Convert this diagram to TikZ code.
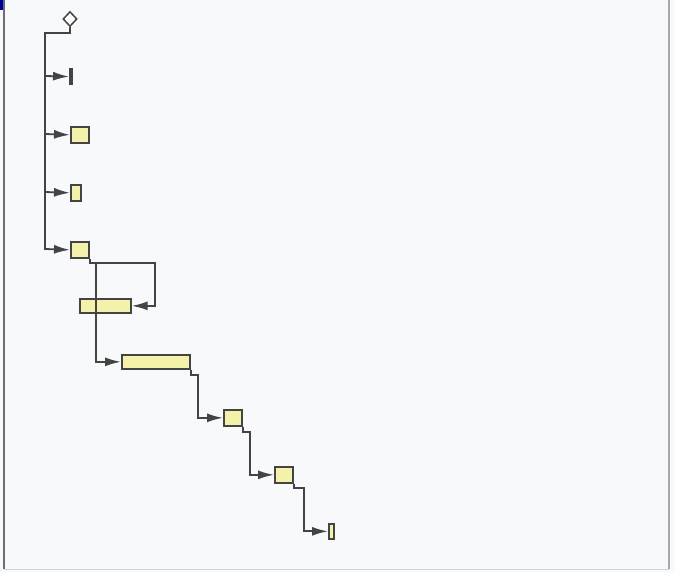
\documentclass[tikz,border=0pt]{standalone}
\usetikzlibrary{arrows.meta,shapes.geometric}
\definecolor{bg}{HTML}{F7F9FB}
\definecolor{ln}{HTML}{444444}
\definecolor{boxfill}{HTML}{F4F2AA}
\definecolor{frm}{HTML}{6A6E78}
\tikzset{
  task/.style={draw=ln, line width=1.7pt, fill=boxfill, inner sep=0pt, anchor=north west},
  msbar/.style={draw=ln, fill=ln, line width=1.2pt, inner sep=0pt, anchor=north west, minimum width=2.5pt, minimum height=16pt},
  conn/.style={draw=ln, line width=1.8pt},
  arr/.style={conn, -{Latex[length=16pt,width=9pt]}},
  start/.style={diamond, draw=ln, line width=1.5pt, fill=white, inner sep=0pt, minimum width=14pt, minimum height=15pt}
}
\begin{document}
\begin{tikzpicture}[x=1pt,y=-1pt]
\useasboundingbox (0,0) rectangle (675,572);
\fill[bg] (0,0) rectangle (675,572);
% frame
\draw[frm, line width=2pt] (4,0) -- (4,569);
\draw[frm!60, line width=1.5pt] (669,0) -- (669,569);
\draw[frm!30, line width=1pt] (4,569.5) -- (669,569.5);
\fill[blue!60!black] (0,0) rectangle (3,10);

% nodes
\node[start] (d) at (70,19) {};
\node[msbar] (m1) at (69,68) {};
\node[task, minimum width=18pt, minimum height=16pt] (b2) at (70,126) {};
\node[task, minimum width=10pt, minimum height=16pt] (b3) at (70,184) {};
\node[task, minimum width=18pt, minimum height=16pt] (b4) at (70,241) {};
\node[task, minimum width=51pt, minimum height=14pt] (b5) at (79,298) {};
\node[task, minimum width=68pt, minimum height=14pt] (b6) at (121,354) {};
\node[task, minimum width=18pt, minimum height=16pt] (b7) at (223,409) {};
\node[task, minimum width=18pt, minimum height=16pt] (b8) at (274,466) {};
\node[task, minimum width=5pt, minimum height=15pt] (b9) at (328,523) {};

% trunk coordinates
\coordinate (t0) at (70,33);
\coordinate (tl) at (45,33);
\coordinate (t1) at (45,76);
\coordinate (t2) at (45,134);
\coordinate (t3) at (45,192);
\coordinate (t4) at (45,249);
\coordinate (j1) at (96,263);
\coordinate (j2) at (155,263);
\coordinate (k1) at (198,375);
\coordinate (k2) at (250,432);
\coordinate (k3) at (304,488);

% connectors
\draw[arr] (d.south) -- (t0) -- (tl) -- (t4) -- (b4.west);
\draw[arr] (t1) -- (m1.west);
\draw[arr] (t2) -- (b2.west);
\draw[arr] (t3) -- (b3.west);
\draw[arr] (b4.south east) |- (j2) |- (b5.east);
\draw[arr] (j1) |- (b6.west);
\draw[arr] (b6.south east) |- (k1) |- (b7.west);
\draw[arr] (b7.south east) |- (k2) |- (b8.west);
\draw[arr] (b8.south east) |- (k3) |- (b9.west);
\end{tikzpicture}
\end{document}
